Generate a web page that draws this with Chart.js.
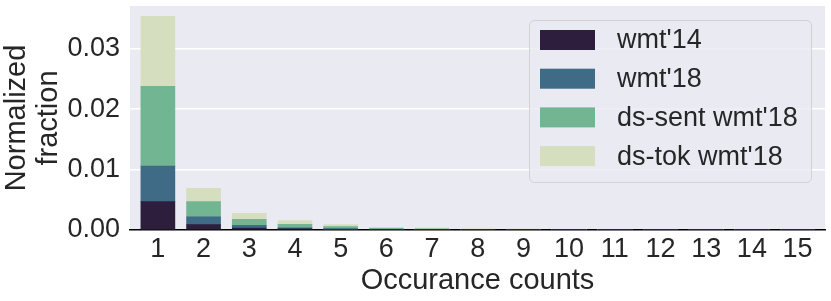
<!DOCTYPE html>
<html>
<head>
<meta charset="utf-8">
<script src="https://cdn.jsdelivr.net/npm/chart.js@4/dist/chart.umd.min.js"></script>
<style>
html,body{margin:0;padding:0;background:#fff;}
#wrap{width:831px;height:301px;position:relative;}
</style>
</head>
<body>
<div id="wrap"><canvas id="c" width="831" height="301"></canvas></div>
<script>
const categories = [1,2,3,4,5,6,7,8,9,10,11,12,13,14,15];
const seriesNames = ["wmt'14", "wmt'18", "ds-sent wmt'18", "ds-tok wmt'18"];
const wmt14 =      [0.0047, 0.0009, 0.00033, 0.0002, 0.0001, 0.00005, 0.00003, 0.00002, 0.00002, 0.00001, 0.00001, 0.00001, 0.00001, 0.00001, 0.00001];
const wmt18 =      [0.0059, 0.0013, 0.00044, 0.00018, 0.00012, 0.00006, 0.00004, 0.00003, 0.00002, 0.00002, 0.00001, 0.00001, 0.00001, 0.00001, 0.00001];
const dsSent =     [0.0132, 0.0025, 0.0010, 0.00056, 0.00033, 0.00017, 0.00012, 0.00008, 0.00006, 0.00005, 0.00004, 0.00004, 0.00003, 0.00003, 0.00002];
const dsTok =      [0.0116, 0.0022, 0.0010, 0.0006, 0.00035, 0.00017, 0.00011, 0.00007, 0.00006, 0.00005, 0.00004, 0.00003, 0.00003, 0.00002, 0.00002];
const yTicks = [0.00, 0.01, 0.02, 0.03];
const colors = ['#2d1e3e', '#3f6b86', '#72b592', '#d6dec0'];

const FONT = "'Liberation Sans', Arial, sans-serif";
const mk = (arr) => categories.map((c, i) => ({x: c, y: arr[i]}));

const bgPlugin = {
  id: 'bg',
  beforeDraw(chart) {
    const {ctx, chartArea: a} = chart;
    ctx.save();
    ctx.fillStyle = '#eaeaf2';
    ctx.fillRect(a.left, a.top, a.right - a.left, a.bottom - a.top);
    ctx.restore();
  }
};

const legendPlugin = {
  id: 'innerLegend',
  afterDatasetsDraw(chart) {
    const ctx = chart.ctx;
    const x0 = 529, y0 = 20, w = 282, h = 162, r = 5;
    ctx.save();
    ctx.beginPath();
    ctx.roundRect(x0 + 0.5, y0 + 0.5, w, h, r);
    ctx.fillStyle = 'rgba(234,234,242,0.8)';
    ctx.fill();
    ctx.strokeStyle = 'rgba(204,204,204,0.8)';
    ctx.lineWidth = 1;
    ctx.stroke();
    ctx.font = '27px ' + FONT;
    ctx.textBaseline = 'middle';
    ctx.textAlign = 'left';
    chart.data.datasets.forEach((ds, i) => {
      const cy = 40 + i * 38.7;
      ctx.fillStyle = ds.backgroundColor;
      ctx.fillRect(540, cy - 10, 55, 20);
      ctx.fillStyle = '#262626';
      ctx.fillText(ds.label, 617, cy + 1);
    });
    ctx.restore();
  }
};

new Chart(document.getElementById('c'), {
  type: 'bar',
  data: {
    datasets: [
      {label: seriesNames[0], data: mk(wmt14), backgroundColor: colors[0]},
      {label: seriesNames[1], data: mk(wmt18), backgroundColor: colors[1]},
      {label: seriesNames[2], data: mk(dsSent), backgroundColor: colors[2]},
      {label: seriesNames[3], data: mk(dsTok), backgroundColor: colors[3]}
    ]
  },
  options: {
    responsive: false,
    animation: false,
    events: [],
    layout: {padding: {top: 6, right: 6, bottom: 0, left: 0}},
    datasets: {bar: {barThickness: 34, borderWidth: 0}},
    plugins: {legend: {display: false}, tooltip: {enabled: false}},
    scales: {
      x: {
        type: 'linear',
        stacked: true,
        offset: false,
        min: 0.39,
        max: 15.6,
        afterBuildTicks(scale) { scale.ticks = categories.map(v => ({value: v})); },
        afterFit(scale) { scale.height = 71; scale.paddingLeft = 0; scale.paddingRight = 0; },
        grid: {display: false, drawTicks: false},
        border: {display: true, color: '#000', width: 1.5},
        ticks: {
          color: '#262626', padding: 3, autoSkip: false, maxRotation: 0,
          font: {family: FONT, size: 27},
          callback: (v) => String(v)
        },
        title: {
          display: true, text: 'Occurance counts', color: '#262626',
          font: {family: FONT, size: 29, lineHeight: 1.2}, padding: {top: 0, bottom: 3}
        }
      },
      y: {
        stacked: true,
        min: 0,
        max: 0.0371,
        afterBuildTicks(scale) { scale.ticks = yTicks.map(v => ({value: v})); },
        afterFit(scale) { scale.width = 130; scale.paddingTop = 0; scale.paddingBottom = 0; },
        grid: {color: '#ffffff', lineWidth: 1.5, drawTicks: false},
        border: {display: false},
        ticks: {
          color: '#262626', padding: 10,
          font: {family: FONT, size: 27},
          callback: (v) => v.toFixed(2)
        },
        title: {
          display: true, text: ['Normalized', 'fraction'], color: '#262626',
          font: {family: FONT, size: 29, lineHeight: 1.1}, padding: {top: 1, bottom: 0}
        }
      }
    }
  },
  plugins: [bgPlugin, legendPlugin]
});
</script>
</body>
</html>
